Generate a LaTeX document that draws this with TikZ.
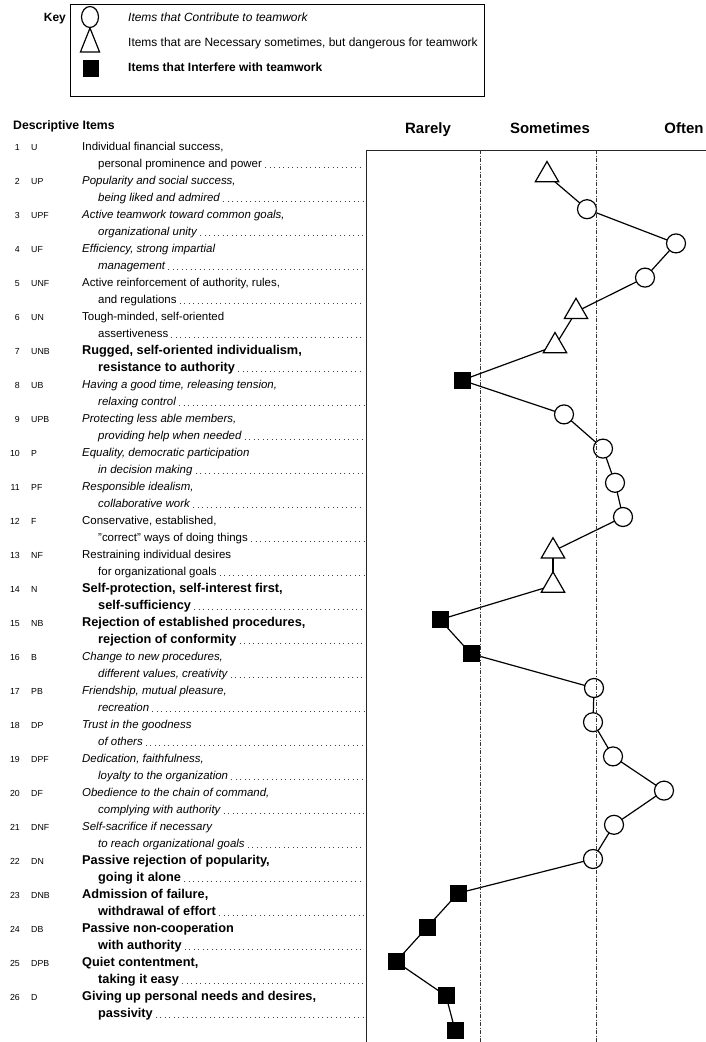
\documentclass[tikz,border=0pt]{standalone}
\usepackage{fontspec}
\setmainfont{Liberation Sans}
\usetikzlibrary{shapes.geometric,backgrounds}
\begin{document}
\begin{tikzpicture}[x=1bp,y=-1bp,
  keytext/.style={anchor=base west,inner sep=0,font=\fontsize{12}{14}\selectfont},
  rowr/.style={anchor=base west,inner sep=0,font=\fontsize{11.5}{13}\selectfont},
  rowi/.style={rowr,font=\fontsize{11.5}{13}\selectfont\itshape},
  rowb/.style={rowr,font=\fontsize{12.8}{14}\selectfont\bfseries},
  numtext/.style={anchor=base east,inner sep=0,font=\fontsize{8.8}{10}\selectfont},
  codetext/.style={anchor=base west,inner sep=0,font=\fontsize{8.8}{10}\selectfont},
  hdr/.style={anchor=base,inner sep=0,font=\fontsize{15}{17}\selectfont\bfseries},
  leader/.style={line width=0.9bp,black!75,dash pattern=on 0.9bp off 3.6bp},
  conn/.style={line width=1.2bp,black},
  mcirc/.style={circle,draw,fill=white,line width=1.2bp,minimum size=19bp,inner sep=0},
  msq/.style={rectangle,fill=black,minimum size=17bp,inner sep=0},
  mtri/.style={regular polygon,regular polygon sides=3,draw,fill=white,line width=1.2bp,minimum size=27bp,inner sep=0},
  vdash/.style={line width=0.7bp,black!80,dash pattern=on 4bp off 1.5bp on 1bp off 1.5bp},
  frame/.style={line width=1bp,black!85}
]
\useasboundingbox (0,0) rectangle (706,1042);

% ---------- Key ----------
\node[anchor=base east,inner sep=0,font=\fontsize{12}{14}\selectfont\bfseries] (key) at (66,21) {Key};
\node[draw,line width=1bp,minimum width=414bp,minimum height=92bp,anchor=north west,inner sep=0] (keybox) at (70,4) {};
\node[ellipse,draw,fill=white,line width=1.2bp,minimum width=17bp,minimum height=21bp,inner sep=0] (kc) at (90,17) {};
\node[regular polygon,regular polygon sides=3,draw,line width=1.2bp,minimum size=29bp,inner sep=0,xscale=0.76,yscale=1.1,transform shape] (kt) at (90,44) {};
\node[rectangle,fill=black,minimum width=16bp,minimum height=17bp,inner sep=0] (ks) at (91,68) {};
\node[keytext,font=\fontsize{12}{14}\selectfont\itshape] (k1) at (128,21) {Items that Contribute to teamwork};
\node[keytext] (k2) at (128,46) {Items that are Necessary sometimes, but dangerous for teamwork};
\node[keytext,font=\fontsize{12}{14}\selectfont\bfseries] (k3) at (128,71) {Items that Interfere with teamwork};

% ---------- Headers ----------
\node[anchor=base west,inner sep=0,font=\fontsize{12.3}{14}\selectfont\bfseries] (desc) at (13,129) {Descriptive Items};
\node[hdr] (rarely) at (428,133) {Rarely};
\node[hdr] (sometimes) at (550,133) {Sometimes};
\node[hdr] (often) at (684,133) {Often};

% ---------- Frame ----------
\coordinate (lead) at (364,0);
\coordinate (ftl) at (366,150);
\coordinate (fbl) at (366,1042);
\coordinate (ftr) at (706,150);
\draw[frame] (fbl) -- (ftl) -- (ftr);

% ---------- Item rows ----------
\foreach \i/\c/\s/\ta/\tb in {
 1/U/rowr/{Individual financial success,}/{personal prominence and power},
 2/UP/rowi/{Popularity and social success,}/{being liked and admired},
 3/UPF/rowi/{Active teamwork toward common goals,}/{organizational unity},
 4/UF/rowi/{Efficiency, strong impartial}/{management},
 5/UNF/rowr/{Active reinforcement of authority, rules,}/{and regulations},
 6/UN/rowr/{Tough-minded, self-oriented}/{assertiveness},
 7/UNB/rowb/{Rugged, self-oriented individualism,}/{resistance to authority},
 8/UB/rowi/{Having a good time, releasing tension,}/{relaxing control},
 9/UPB/rowi/{Protecting less able members,}/{providing help when needed},
 10/P/rowi/{Equality, democratic participation}/{in decision making},
 11/PF/rowi/{Responsible idealism,}/{collaborative work},
 12/F/rowr/{Conservative, established,}/{"correct" ways of doing things},
 13/NF/rowr/{Restraining individual desires}/{for organizational goals},
 14/N/rowb/{Self-protection, self-interest first,}/{self-sufficiency},
 15/NB/rowb/{Rejection of established procedures,}/{rejection of conformity},
 16/B/rowi/{Change to new procedures,}/{different values, creativity},
 17/PB/rowi/{Friendship, mutual pleasure,}/{recreation},
 18/DP/rowi/{Trust in the goodness}/{of others},
 19/DPF/rowi/{Dedication, faithfulness,}/{loyalty to the organization},
 20/DF/rowi/{Obedience to the chain of command,}/{complying with authority},
 21/DNF/rowi/{Self-sacrifice if necessary}/{to reach organizational goals},
 22/DN/rowb/{Passive rejection of popularity,}/{going it alone},
 23/DNB/rowb/{Admission of failure,}/{withdrawal of effort},
 24/DB/rowb/{Passive non-cooperation}/{with authority},
 25/DPB/rowb/{Quiet contentment,}/{taking it easy},
 26/D/rowb/{Giving up personal needs and desires,}/{passivity}}{
  \pgfmathsetmacro\yy{150+34*(\i-1)}
  \node[numtext] (n\i) at (20,\yy) {\i};
  \node[codetext] (c\i) at (31,\yy) {\c};
  \node[\s] (a\i) at (82,\yy) {\ta};
  \node[\s] (b\i) at (98,{\yy+17}) {\tb};
  \draw[leader] ([xshift=3bp]b\i.base east) -- (b\i.base east -| lead);
}

% ---------- Markers ----------
\foreach \i/\x/\t in {1/547/mtri,2/587/mcirc,3/676/mcirc,4/645/mcirc,5/576/mtri,6/555/mtri,7/462/msq,
  8/564/mcirc,9/603/mcirc,10/615/mcirc,11/623/mcirc,12/553/mtri,13/553/mtri,14/440/msq,15/471/msq,
  16/594/mcirc,17/593/mcirc,18/613/mcirc,19/664/mcirc,20/614/mcirc,21/593/mcirc,
  22/458/msq,23/427/msq,24/396/msq,25/446/msq,26/455/msq}{
  \node[\t] (m\i) at (\x,{175+34.2*(\i-1)}) {};
}
\begin{scope}[on background layer]
  \foreach \i [remember=\i as \p (initially 1)] in {2,...,26}
    \draw[conn] (m\p.center) -- (m\i.center);
\end{scope}

% ---------- Dashed dividers ----------
\coordinate (d1t) at (480,150);
\coordinate (d1b) at (480,1042);
\coordinate (d2t) at (596,150);
\coordinate (d2b) at (596,1042);
\draw[vdash] (d1t) -- (d1b);
\draw[vdash] (d2t) -- (d2b);
\end{tikzpicture}
\end{document}
